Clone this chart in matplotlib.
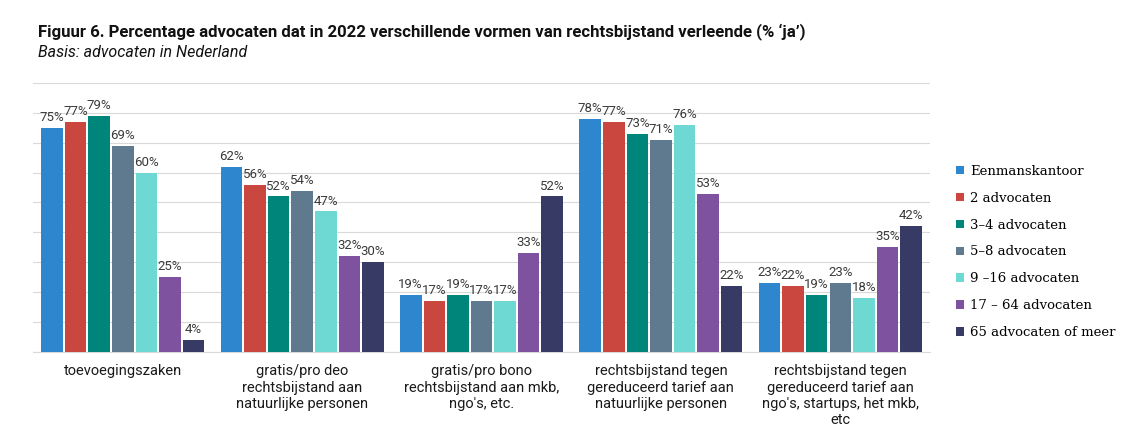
import matplotlib.pyplot as plt
import numpy as np

categories = [
    "toevoegingszaken",
    "gratis/pro deo\nrechtsbijstand aan\nnatuurlijke personen",
    "gratis/pro bono\nrechtsbijstand aan mkb,\nngo's, etc.",
    "rechtsbijstand tegen\ngereduceerd tarief aan\nnatuurlijke personen",
    "rechtsbijstand tegen\ngereduceerd tarief aan\nngo's, startups, het mkb,\netc",
]
series_names = [
    "Eenmanskantoor",
    "2 advocaten",
    "3\u20134 advocaten",
    "5\u20138 advocaten",
    "9 \u201316 advocaten",
    "17 \u2013 64 advocaten",
    "65 advocaten of meer",
]
values = [
    [75, 62, 19, 78, 23],
    [77, 56, 17, 77, 22],
    [79, 52, 19, 73, 19],
    [69, 54, 17, 71, 23],
    [60, 47, 17, 76, 18],
    [25, 32, 33, 53, 35],
    [4, 30, 52, 22, 42],
]
colors = ["#2E86CF", "#C9473F", "#00857A", "#5F7A8F", "#6ED9D3", "#7E529E", "#363A64"]

fig = plt.figure(figsize=(11.39, 4.41), dpi=100)
ax = fig.add_axes([0.029, 0.202, 0.7875, 0.61])

x = np.arange(len(categories))
n = len(series_names)
w = 0.1315
for i in range(n):
    pos = x + (i - (n - 1) / 2) * w
    bars = ax.bar(pos, values[i], width=w * 0.915, color=colors[i], label=series_names[i], zorder=3)
    for b, v in zip(bars, values[i]):
        ax.text(b.get_x() + b.get_width() / 2, v + 1.3, f"{v}%", ha="center", va="bottom",
                fontsize=9.5, color="#3a3a3a", family="Roboto")

ax.set_ylim(0, 90)
ax.set_xlim(-0.5, len(categories) - 0.5)
ax.set_yticks(np.arange(0, 91, 10))
ax.set_yticklabels([])
ax.tick_params(axis="y", length=0)
ax.tick_params(axis="x", length=0, pad=9)
ax.grid(axis="y", color="#D9D9D9", linewidth=0.8, zorder=0)
for s in ["top", "right", "left"]:
    ax.spines[s].set_visible(False)
ax.spines["bottom"].set_color("#D9D9D9")
ax.set_xticks(x)
ax.set_xticklabels(categories, fontsize=10.5, family="Roboto",
                   color="#1a1a1a", linespacing=1.2, va="top")

fig.text(0.033, 0.915, "Figuur 6. Percentage advocaten dat in 2022 verschillende vormen van rechtsbijstand verleende (% \u2018ja\u2019)",
         fontsize=12.1, fontweight="bold", family="Roboto", color="#111111")
fig.text(0.033, 0.87, "Basis: advocaten in Nederland", fontsize=11.5, style="italic",
         family="Roboto", color="#111111")

leg = fig.legend(loc="upper left", bbox_to_anchor=(0.829, 0.653), frameon=False,
                 prop={"family": "DejaVu Serif", "size": 9.5}, handlelength=0.6,
                 handleheight=0.6, handletextpad=0.45, labelspacing=1.05)

fig.savefig("out.png", dpi=100)
